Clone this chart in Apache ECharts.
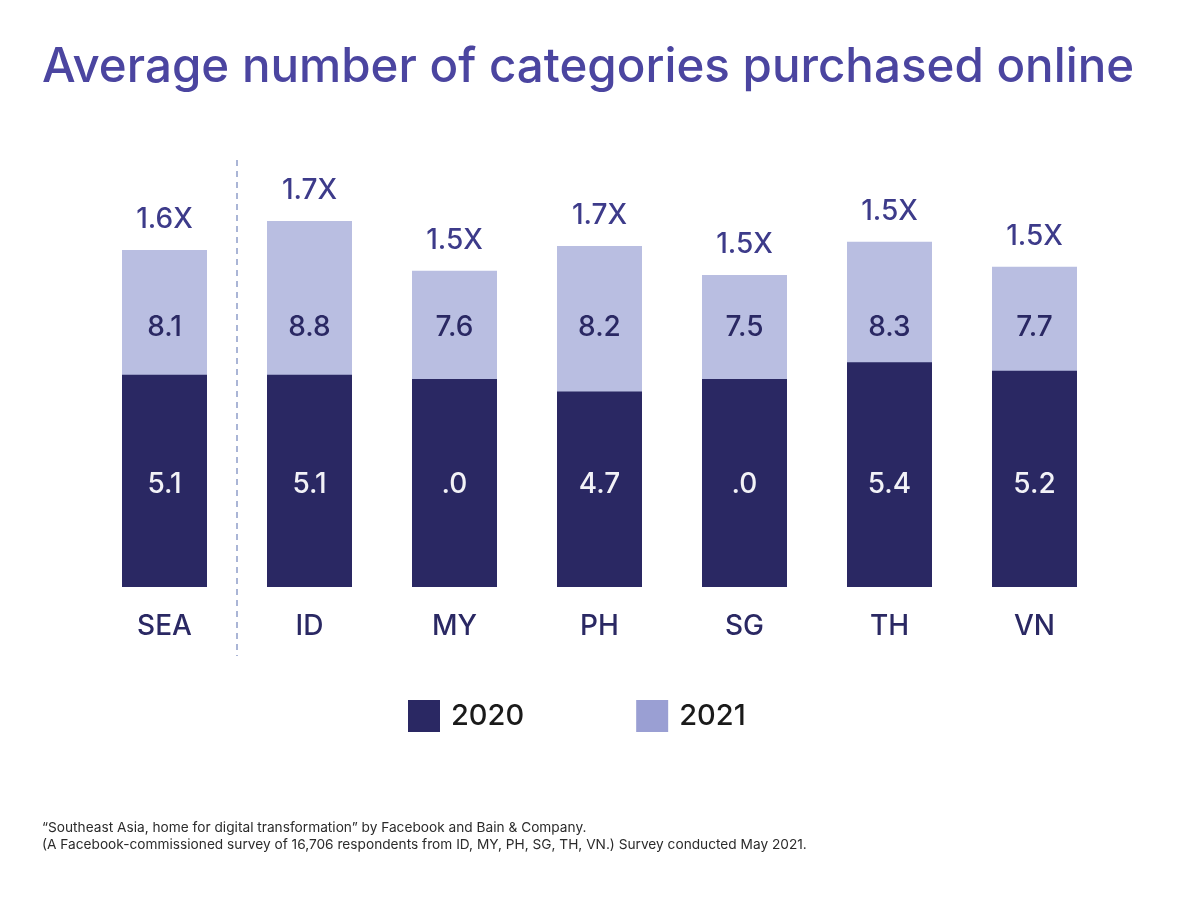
<!DOCTYPE html>
<html>
<head>
<meta charset="utf-8">
<script src="https://cdn.jsdelivr.net/npm/echarts@6/dist/echarts.min.js"></script>
<style>
  html, body { margin: 0; padding: 0; background: #ffffff; }
  #main { width: 1200px; height: 900px; }
</style>
</head>
<body>
<div id="main"></div>
<script>
var categories = ['SEA', 'ID', 'MY', 'PH', 'SG', 'TH', 'VN'];
var values2020 = [5.1, 5.1, 5.0, 4.7, 5.0, 5.4, 5.2];
var values2021 = [8.1, 8.8, 7.6, 8.2, 7.5, 8.3, 7.7];
// labels exactly as printed on the chart
var labels2020 = ['5.1', '5.1', '.0', '4.7', '.0', '5.4', '5.2'];
var growth = ['1.6X', '1.7X', '1.5X', '1.7X', '1.5X', '1.5X', '1.5X'];

var font = 'Inter, "Noto Sans", sans-serif';
var dark = '#2a2863';
var light = '#b9bee1';

var chart = echarts.init(document.getElementById('main'));

chart.setOption({
    backgroundColor: '#ffffff',
    animation: false,
    title: [
        {
            text: 'Average number of categories purchased online',
            left: 42,
            top: 44,
            padding: 0,
            textStyle: {
                fontFamily: font,
                fontSize: 47.5,
                fontWeight: 500,
                color: '#4b45a0'
            }
        },
        {
            text: '\u201cSoutheast Asia, home for digital transformation\u201d by Facebook and Bain & Company.\n' +
                  '(A Facebook-commissioned survey of 16,706 respondents from ID, MY, PH, SG, TH, VN.) Survey conducted May 2021.',
            left: 42,
            top: 819,
            padding: 0,
            textStyle: {
                fontFamily: font,
                fontSize: 13.7,
                fontWeight: 'normal',
                lineHeight: 17,
                color: '#2b2b2b'
            }
        }
    ],
    legend: {
        left: 408,
        top: 700,
        padding: 0,
        itemWidth: 32,
        itemHeight: 32,
        itemGap: 112,
        icon: 'rect',
        textStyle: {
            fontFamily: font,
            fontSize: 29,
            fontWeight: 500,
            color: '#1a1a1a',
            padding: [0, 0, 0, 6]
        },
        data: [
            {name: '2020', itemStyle: {color: dark}},
            {name: '2021', itemStyle: {color: '#9a9fd3'}}
        ]
    },
    grid: {
        left: 92,
        right: 93,
        top: 171,
        bottom: 313
    },
    xAxis: {
        type: 'category',
        data: categories,
        axisLine: {show: false},
        axisTick: {show: false},
        axisLabel: {
            margin: 26,
            fontFamily: font,
            fontSize: 28,
            fontWeight: 500,
            color: dark
        }
    },
    yAxis: {
        type: 'value',
        min: 0,
        max: 10,
        show: false,
        splitLine: {show: false}
    },
    series: [
        {
            name: '2021',
            type: 'bar',
            data: values2021,
            barWidth: 85,
            barGap: '-100%',
            itemStyle: {color: light},
            label: {
                show: true,
                position: 'insideBottom',
                distance: 245,
                fontFamily: font,
                fontSize: 28,
                fontWeight: 500,
                color: dark
            }
        },
        {
            name: '2020',
            type: 'bar',
            data: values2020,
            barWidth: 85,
            barGap: '-100%',
            itemStyle: {color: dark},
            label: {
                show: true,
                position: 'insideBottom',
                distance: 88,
                fontFamily: font,
                fontSize: 28,
                fontWeight: 500,
                color: '#f2f2f7',
                formatter: function (p) { return labels2020[p.dataIndex]; }
            }
        },
        {
            name: 'growth',
            type: 'bar',
            data: values2021,
            barWidth: 85,
            barGap: '-100%',
            silent: true,
            itemStyle: {color: 'rgba(0,0,0,0)'},
            label: {
                show: true,
                position: 'top',
                distance: 16,
                fontFamily: font,
                fontSize: 28,
                fontWeight: 500,
                color: '#3d3b8a',
                formatter: function (p) { return growth[p.dataIndex]; }
            }
        }
    ]
});

// dashed separator between SEA and the individual countries
var xSea = chart.convertToPixel({xAxisIndex: 0}, 'SEA');
var xId = chart.convertToPixel({xAxisIndex: 0}, 'ID');
var xSep = (xSea + xId) / 2;

chart.setOption({
    graphic: [
        {
            type: 'line',
            shape: {x1: xSep, y1: 160, x2: xSep, y2: 656},
            style: {
                stroke: '#aab5d6',
                lineWidth: 2,
                lineDash: [6, 5]
            }
        }
    ]
});
</script>
</body>
</html>
